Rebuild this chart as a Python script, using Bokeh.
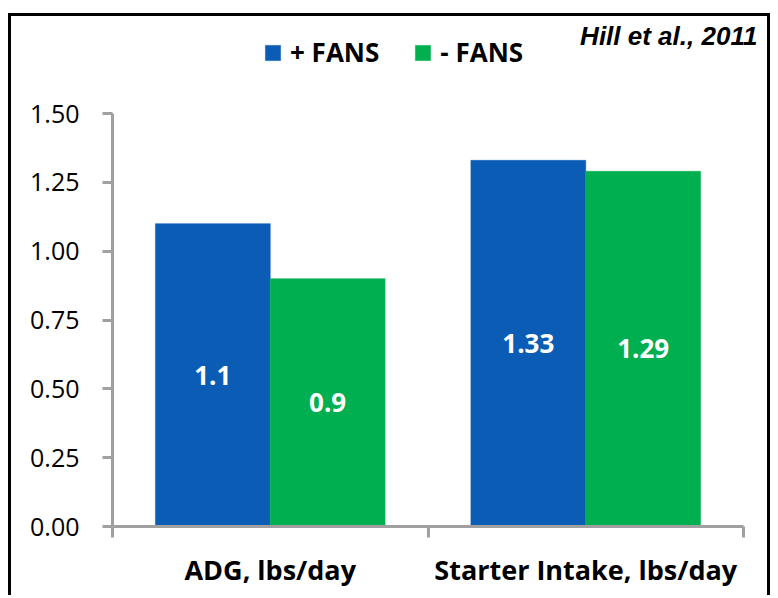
from bokeh.plotting import figure
from bokeh.models import (Range1d, FixedTicker, NumeralTickFormatter, ColumnDataSource,
                          LabelSet, Label, Legend, LegendItem)
from bokeh.core.properties import value
from bokeh.embed import file_html
from bokeh.resources import INLINE

categories = ["ADG, lbs/day", "Starter Intake, lbs/day"]
series_names = ["+ FANS", "- FANS"]
plus_fans = [1.1, 1.33]
minus_fans = [0.9, 1.29]
value_labels_plus = ["1.1", "1.33"]
value_labels_minus = ["0.9", "1.29"]
y_ticks = [0.0, 0.25, 0.5, 0.75, 1.0, 1.25, 1.5]
y_max = 1.5
source_note = "Hill et al., 2011"

BLUE = "#0A5CB4"
GREEN = "#00B050"
AXIS = "#A0A0A0"
FONT = "Open Sans"

W, H = 762, 582
LEFT, BOTTOM = 101, 72
AXIS_W, AXIS_H = 631, 413          # pixel extent of the drawn axes
FRAME_W, FRAME_H = W - LEFT, H - BOTTOM
n = len(categories)
x_end = n * FRAME_W / AXIS_W
y_end = y_max * FRAME_H / AXIS_H

p = figure(width=W, height=H, output_backend="svg", toolbar_location=None,
           x_range=Range1d(0, x_end), y_range=Range1d(0, y_end),
           min_border_left=LEFT, min_border_right=0, min_border_top=0, min_border_bottom=BOTTOM)
p.styles = {"margin-left": "8px", "margin-top": "13px",
            "border-left": "3px solid black", "border-right": "3px solid black",
            "border-top": "3px solid black"}
p.outline_line_color = None
p.xgrid.visible = False
p.ygrid.visible = False
p.background_fill_color = "white"
p.border_fill_color = "white"

bar_w = 0.364
centers = [i + 0.5 for i in range(n)]
src_plus = ColumnDataSource(dict(x=[c - bar_w / 2 for c in centers], top=plus_fans,
                                 mid=[v / 2 for v in plus_fans], lab=value_labels_plus))
src_minus = ColumnDataSource(dict(x=[c + bar_w / 2 for c in centers], top=minus_fans,
                                  mid=[v / 2 for v in minus_fans], lab=value_labels_minus))

r1 = p.vbar(x="x", top="top", width=bar_w, source=src_plus, fill_color=BLUE, line_color=BLUE, line_width=0.5)
r2 = p.vbar(x="x", top="top", width=bar_w, source=src_minus, fill_color=GREEN, line_color=GREEN, line_width=0.5)

for src in (src_plus, src_minus):
    p.add_layout(LabelSet(x="x", y="mid", text="lab", source=src, text_color="white",
                          text_font=value(FONT), text_font_style="bold", text_font_size="26px",
                          text_align="center", text_baseline="middle"))

# y axis
ya = p.yaxis[0]
ya.ticker = FixedTicker(ticks=y_ticks)
ya.bounds = (0, y_max)
ya.formatter = NumeralTickFormatter(format="0.00")
ya.axis_line_color = AXIS
ya.axis_line_width = 3
ya.major_tick_line_color = AXIS
ya.major_tick_line_width = 3
ya.major_tick_out = 10
ya.major_tick_in = 0
ya.minor_tick_line_color = None
ya.major_label_text_font = FONT
ya.major_label_text_font_size = "25px"
ya.major_label_text_color = "black"
ya.major_label_standoff = 23

# x axis
xa = p.xaxis[0]
xa.ticker = FixedTicker(ticks=centers, minor_ticks=list(range(n + 1)))
xa.bounds = (0, n)
xa.major_label_overrides = {c: lab for c, lab in zip(centers, categories)}
xa.axis_line_color = AXIS
xa.axis_line_width = 3
xa.major_tick_line_color = None
xa.major_tick_out = 0
xa.major_tick_in = 0
xa.minor_tick_line_color = AXIS
xa.minor_tick_line_width = 3
xa.minor_tick_out = 11
xa.minor_tick_in = 0
xa.major_label_text_font = FONT
xa.major_label_text_font_style = "bold"
xa.major_label_text_font_size = "27px"
xa.major_label_text_color = "black"
xa.major_label_standoff = 13

legend = Legend(items=[LegendItem(label=series_names[0], renderers=[r1]),
                       LegendItem(label=series_names[1], renderers=[r2])],
                orientation="horizontal", location=(151, 456),
                glyph_width=19, glyph_height=19, label_standoff=8, spacing=34,
                padding=0, margin=0, border_line_color=None, background_fill_alpha=0,
                label_text_font=FONT, label_text_font_style="bold",
                label_text_font_size="26px", label_text_color="black")
p.add_layout(legend, "center")

p.add_layout(Label(x=2.044, y=1.782, text=source_note, text_align="right", text_baseline="middle",
                   text_font="Liberation Sans", text_font_style="bold italic",
                   text_font_size="26px", text_color="black"))

open("out.html", "w").write(file_html(p, INLINE))
